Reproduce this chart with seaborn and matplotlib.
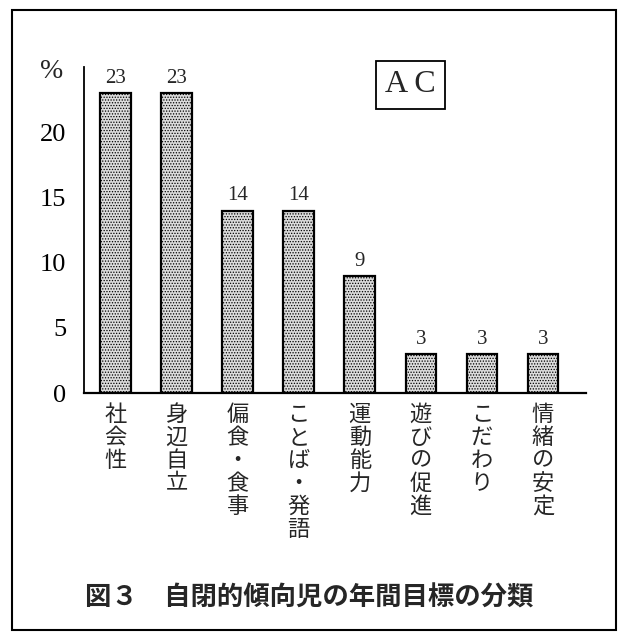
import matplotlib
matplotlib.use("Agg")
import matplotlib.pyplot as plt
import seaborn as sns
import pandas as pd
from matplotlib.patches import Rectangle

# data
categories = ["社会性", "身辺自立", "偏食・食事", "ことば・発語",
              "運動能力", "遊びの促進", "こだわり", "情緒の安定"]
values = [23, 23, 14, 14, 9, 3, 3, 3]
yticks = [0, 5, 10, 15, 20]
title = "図３　自閉的傾向児の年間目標の分類"
group_label = "A C"

df = pd.DataFrame({"category": categories, "value": values})

sns.set_theme(style="white")
plt.rcParams["font.family"] = ["Liberation Serif", "Noto Sans CJK JP", "DejaVu Sans"]
plt.rcParams["hatch.linewidth"] = 0.6
plt.rcParams["hatch.color"] = "#555555"

fig = plt.figure(figsize=(6.21, 6.34), dpi=100)
ax = fig.add_axes([0.135, 0.380, 0.808, 0.514])

sns.barplot(data=df, x="category", y="value", color="#dcdcdc",
            width=0.5, edgecolor="black", linewidth=1.6, saturation=1, ax=ax)
for p in ax.patches:
    p.set_hatch("......")

# value labels
for i, v in enumerate(values):
    ax.text(i, v + 0.4, str(v), ha="center", va="bottom",
            fontsize=15, family="Liberation Serif")

ax.set_ylim(0, 25)
ax.set_xlim(-0.52, 7.7)
ax.set_yticks(yticks)
ax.set_yticklabels([str(t) for t in yticks], fontsize=19, family="Liberation Serif")
ax.tick_params(axis="y", direction="inout", length=7, width=1.2, pad=9, colors="black")

ax.set_xticks(range(len(categories)))
ax.set_xticklabels(["\n".join(c) for c in categories], fontsize=16,
                   family=["Noto Sans CJK JP"], va="top", linespacing=1.0)
ax.tick_params(axis="x", length=0, pad=7)

ax.set_xlabel("")
ax.set_ylabel("")
for s in ["top", "right"]:
    ax.spines[s].set_visible(False)
ax.spines["left"].set_linewidth(1.3)
ax.spines["bottom"].set_linewidth(1.6)
ax.spines["left"].set_color("black")
ax.spines["bottom"].set_color("black")

# "%" marker on the axis
fig.text(0.083, 0.888, "%", fontsize=20, family="Liberation Serif", ha="center", va="center")

# AC box
fig.text(0.661, 0.866, group_label, fontsize=23, family="Liberation Serif",
         ha="center", va="center",
         bbox=dict(boxstyle="square,pad=0.3", facecolor="white", edgecolor="black", linewidth=1.3))

# figure title
fig.text(0.498, 0.057, title, fontsize=19, fontweight="bold",
         family=["Noto Sans CJK JP"], ha="center", va="center")

# outer frame
fig.patches.append(Rectangle((0.02, 0.006), 0.972, 0.978, transform=fig.transFigure,
                             fill=False, edgecolor="black", linewidth=1.5))

plt.savefig("out.png", dpi=100)
